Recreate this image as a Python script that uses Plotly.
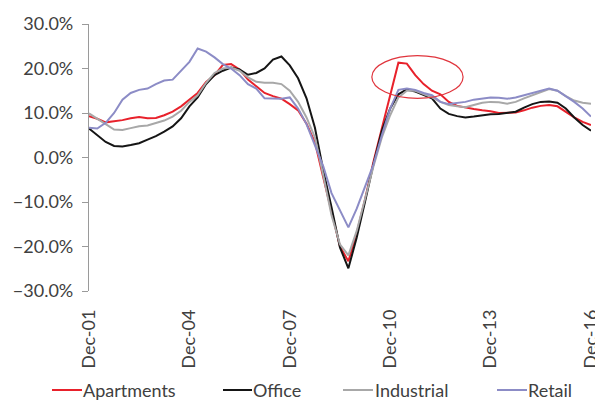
import pandas as pd
import plotly.graph_objects as go

# Quarterly annual growth rates, Dec-01 .. Dec-16 (61 quarters)
quarters = pd.date_range("2001-12-01", periods=61, freq="3MS")

apartments = [9.3, 8.7, 7.9, 8.1, 8.4, 8.8, 9.1, 8.8, 8.9, 9.5,
              10.3, 11.5, 13.0, 14.5, 17.0, 18.5, 20.8, 21.0, 19.8, 17.5,
              16.0, 14.5, 13.8, 13.2, 12.0, 10.6, 7.6, 3.4, -4.5, -12.0,
              -20.0, -23.3, -17.0, -9.5, -1.0, 6.5, 14.0, 21.3, 21.1, 18.5,
              16.5, 15.0, 14.2, 12.5, 11.6, 11.2, 10.9, 10.6, 10.4, 10.0,
              10.0, 10.1, 10.6, 11.2, 11.6, 11.8, 11.5, 10.3, 9.0, 8.0,
              7.3]

office = [6.5, 5.0, 3.5, 2.6, 2.5, 2.8, 3.2, 4.0, 4.8, 5.8,
          7.0, 8.8, 11.5, 13.5, 16.5, 18.5, 19.5, 20.2, 19.8, 18.6,
          19.0, 20.0, 22.0, 22.7, 20.7, 17.8, 13.3, 6.7, -2.9, -11.2,
          -20.2, -24.9, -18.0, -10.0, -1.5, 6.0, 11.0, 14.2, 15.3, 14.8,
          14.0, 13.3, 11.0, 9.8, 9.3, 9.0, 9.2, 9.5, 9.7, 9.8,
          10.0, 10.3, 11.2, 12.0, 12.5, 12.6, 12.3, 11.0, 9.0, 7.3,
          6.0]

industrial = [9.9, 8.8, 7.5, 6.3, 6.2, 6.6, 7.0, 7.2, 7.7, 8.3,
              9.2, 10.5, 12.5, 14.0, 16.8, 19.0, 20.0, 20.2, 19.5, 18.0,
              17.0, 16.8, 16.8, 16.5, 15.0, 12.5, 9.0, 4.5, -4.0, -13.0,
              -19.5, -22.0, -16.5, -9.0, -2.0, 4.5, 9.5, 13.5, 15.0, 15.0,
              14.3, 13.5, 12.5, 11.8, 11.5, 11.3, 11.8, 12.3, 12.5, 12.4,
              12.1, 12.5, 13.3, 14.0, 14.8, 15.4, 15.0, 13.8, 12.8, 12.3,
              12.1]

retail = [6.7, 6.5, 7.8, 10.0, 13.0, 14.5, 15.2, 15.5, 16.5, 17.3,
          17.5, 19.5, 21.5, 24.5, 23.8, 22.5, 21.0, 20.0, 18.5, 16.5,
          15.5, 13.3, 13.3, 13.2, 13.5, 11.0, 7.5, 2.5, -2.0, -8.0,
          -12.0, -15.7, -11.5, -6.7, -1.6, 5.0, 11.0, 15.2, 15.5, 15.2,
          14.5, 14.0, 12.5, 12.0, 12.3, 12.5, 13.0, 13.3, 13.5, 13.4,
          13.2, 13.5, 14.0, 14.5, 15.0, 15.5, 15.0, 13.8, 12.5, 11.0,
          9.2]

series_names = ["Apartments", "Office", "Industrial", "Retail"]
series_values = [apartments, office, industrial, retail]
series_colors = ["#e8212b", "#151515", "#a8a8a8", "#8c8cc6"]

tick_dates = ["2001-12-01", "2004-12-01", "2007-12-01",
              "2010-12-01", "2013-12-01", "2016-12-01"]
tick_labels = ["Dec-01", "Dec-04", "Dec-07", "Dec-10", "Dec-13", "Dec-16"]

# Highlight ring around the 2011 apartments spike
ring_x = ["2010-05-15", "2013-02-04"]
ring_y = [13.3, 22.9]

FONT = "Lato, 'Open Sans', sans-serif"
TEXT = "#404040"

W, H = 595, 401
M_L, M_R, M_T, M_B = 89, 4, 24, 110
PW, PH = W - M_L - M_R, H - M_T - M_B


def px_to_paper(px, py):
    return (px - M_L) / PW, (H - M_B - py) / PH


# Legend row: key-line start/end and label start, in pixels
legend_row_y = 390
legend_keys = [(52, 82, 83), (223, 252, 253), (343, 373, 375), (497, 527, 528)]

fig = go.Figure()
for name, vals, col in zip(series_names, series_values, series_colors):
    fig.add_trace(go.Scatter(
        x=quarters, y=vals, name=name, mode="lines",
        line=dict(color=col, width=2), showlegend=False,
    ))

fig.add_shape(type="circle", xref="x", yref="y",
              x0=ring_x[0], x1=ring_x[1], y0=ring_y[0], y1=ring_y[1],
              line=dict(color="#e0353d", width=1.2))

# Legend drawn as key lines plus text labels below the axis
for name, col, (k0, k1, t0) in zip(series_names, series_colors, legend_keys):
    x0, yl = px_to_paper(k0, legend_row_y)
    x1, _ = px_to_paper(k1, legend_row_y)
    xt, _ = px_to_paper(t0, legend_row_y)
    fig.add_shape(type="line", xref="paper", yref="paper",
                  x0=x0, x1=x1, y0=yl, y1=yl,
                  line=dict(color=col, width=2))
    fig.add_annotation(xref="paper", yref="paper", x=xt, y=yl,
                       text=name, showarrow=False, xanchor="left",
                       yanchor="middle", borderpad=0, xshift=-1,
                       font=dict(family=FONT, size=18, color=TEXT))

x_range = [tick_dates[0], tick_dates[-1]]

fig.update_layout(
    width=W, height=H,
    margin=dict(l=M_L, r=M_R, t=M_T, b=M_B),
    paper_bgcolor="white", plot_bgcolor="white",
    font=dict(family=FONT, size=18, color=TEXT),
    showlegend=False,
    xaxis=dict(
        type="date", range=x_range, automargin=False,
        tickvals=tick_dates, ticktext=tick_labels, tickangle=-90,
        showgrid=False, zeroline=False, showline=False, ticks="",
        tickfont=dict(family=FONT, size=18, color=TEXT),
        ticklabelstandoff=14, ticklabeloverflow="allow",
    ),
    xaxis2=dict(
        type="date", range=x_range, overlaying="x", anchor="free",
        position=0.5, side="bottom",
        tickvals=tick_dates, showticklabels=False,
        showgrid=False, zeroline=False,
        showline=True, linecolor="#5a5a5a", linewidth=1.3,
        ticks="outside", ticklen=5, tickcolor="#5a5a5a", tickwidth=1.2,
    ),
    yaxis=dict(
        range=[-30, 30], dtick=10, tickformat=".1f", ticksuffix="%",
        showgrid=False, zeroline=False, automargin=False,
        showline=True, linecolor="#9a9a9a", linewidth=1.2,
        ticks="outside", ticklen=6, tickcolor="#9a9a9a", tickwidth=1.2,
        tickfont=dict(family=FONT, size=18, color=TEXT),
        ticklabelstandoff=5,
    ),
)

fig.write_html("out.html")
